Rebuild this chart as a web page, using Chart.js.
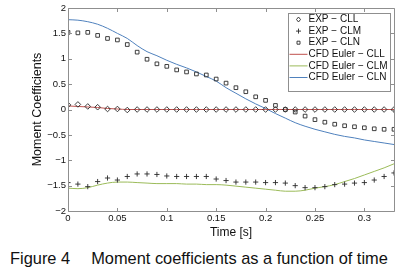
<!DOCTYPE html>
<html lang="en">
<head>
<meta charset="UTF-8">
<title>Moment coefficients</title>
<script src="https://cdn.jsdelivr.net/npm/chart.js@4"></script>
<style>
    body { margin: 0; background: #fff; }
    #wrap { position: relative; width: 410px; height: 275px; }
    canvas { display: block; }
    #caption {
        position: absolute; left: 10px; top: 249px;
        font: 16.4px "Liberation Sans", Arial, sans-serif;
        line-height: 18px; color: #111; white-space: pre;
    }
</style>
</head>
<body>
<div id="wrap">
    <canvas id="momentChart" width="410" height="244"></canvas>
    <div id="caption">Figure 4<span style="margin-left:21px">Moment coefficients as a function of time</span></div>
</div>

<script>
// time samples [s], experiment and CFD share the same grid
var times = [0, 0.01, 0.02, 0.03, 0.04, 0.05, 0.06, 0.07, 0.08, 0.09, 0.10, 0.11,
    0.12, 0.13, 0.14, 0.15, 0.16, 0.17, 0.18, 0.19, 0.20, 0.21, 0.22, 0.23,
    0.24, 0.25, 0.26, 0.27, 0.28, 0.29, 0.30, 0.31, 0.32, 0.33];

// experiment
var expCLL = [0.09, 0.10, 0.06, 0.045, 0.01, 0.01, -0.01, 0, 0, 0, 0, 0,
    0, 0, 0, 0, 0, 0, 0, 0, 0, 0, 0, 0,
    0, 0, 0, 0, 0, 0, 0, 0, 0, 0];
var expCLM = [-1.44, -1.47, -1.52, -1.42, -1.35, -1.39, -1.32, -1.27, -1.27, -1.28, -1.31, -1.32,
    -1.32, -1.32, -1.32, -1.37, -1.40, -1.43, -1.43, -1.43, -1.44, -1.44, -1.45, -1.50,
    -1.54, -1.54, -1.52, -1.48, -1.47, -1.45, -1.44, -1.39, -1.32, -1.25];
var expCLN = [1.52, 1.51, 1.52, 1.46, 1.40, 1.37, 1.28, 1.13, 0.99, 0.90, 0.85, 0.78,
    0.74, 0.70, 0.68, 0.60, 0.52, 0.43, 0.35, 0.25, 0.18, 0.08, 0.0, -0.05,
    -0.13, -0.20, -0.25, -0.29, -0.32, -0.34, -0.36, -0.38, -0.39, -0.39];

// CFD Euler
var cfdCLL = [0.07, 0.06, 0.05, 0.04, 0.02, 0.01, 0, 0, 0, 0, 0, 0,
    0, 0, 0, 0, 0, 0, 0, 0, 0, 0, 0, 0,
    0, 0, 0, 0, 0, 0, 0, 0, 0, 0];
var cfdCLM = [-1.55, -1.56, -1.54, -1.49, -1.45, -1.43, -1.43, -1.44, -1.45, -1.46, -1.46, -1.46,
    -1.47, -1.47, -1.48, -1.48, -1.49, -1.51, -1.53, -1.55, -1.57, -1.59, -1.61, -1.61,
    -1.59, -1.55, -1.52, -1.48, -1.42, -1.36, -1.29, -1.22, -1.15, -1.07];
var cfdCLN = [1.77, 1.76, 1.73, 1.68, 1.60, 1.50, 1.40, 1.26, 1.14, 1.06, 0.97, 0.89,
    0.82, 0.74, 0.65, 0.56, 0.43, 0.32, 0.21, 0.11, 0.02, -0.08, -0.17, -0.26,
    -0.33, -0.39, -0.44, -0.49, -0.53, -0.56, -0.60, -0.63, -0.66, -0.69];

var seriesLabels = ['EXP \u2212 CLL', 'EXP \u2212 CLM', 'EXP \u2212 CLN',
    'CFD Euler \u2212 CLL', 'CFD Euler \u2212 CLM', 'CFD Euler \u2212 CLN'];

var xTickStep = 0.05;
var yTickStep = 0.5;

var fontFamily = '"Liberation Sans", Arial, sans-serif';
var markerColor = '#2a2a2a';

function pairs(ys) {
    return times.map(function (t, i) { return { x: t, y: ys[i] }; });
}

function expSet(label, ys, style, r) {
    return {
        label: label, data: pairs(ys), showLine: false,
        pointStyle: style, pointRadius: r, pointHoverRadius: r,
        pointBorderColor: markerColor, pointBackgroundColor: 'transparent',
        pointBorderWidth: 0.9
    };
}

function cfdSet(label, ys, color) {
    return {
        label: label, data: pairs(ys), showLine: true,
        borderColor: color, borderWidth: 1, pointRadius: 0,
        cubicInterpolationMode: 'monotone', fill: false
    };
}

// matlab style box with inward ticks
var frameBox = {
    id: 'frameBox',
    afterDatasetsDraw: function (chart) {
        var ctx = chart.ctx, a = chart.chartArea;
        var xs = chart.scales.x, ys = chart.scales.y;
        var l = Math.round(a.left) + 0.5, r = Math.round(a.right) + 0.5;
        var t = Math.round(a.top) + 0.5, b = Math.round(a.bottom) + 0.5;
        ctx.save();
        ctx.strokeStyle = '#8f8f8f';
        ctx.lineWidth = 1;
        ctx.beginPath();
        ctx.rect(l, t, r - l, b - t);
        xs.ticks.forEach(function (tk) {
            var px = Math.round(xs.getPixelForValue(tk.value)) + 0.5;
            ctx.moveTo(px, b); ctx.lineTo(px, b - 3.5);
            ctx.moveTo(px, t); ctx.lineTo(px, t + 3.5);
        });
        ys.ticks.forEach(function (tk) {
            var py = Math.round(ys.getPixelForValue(tk.value)) + 0.5;
            ctx.moveTo(l, py); ctx.lineTo(l + 3.5, py);
            ctx.moveTo(r, py); ctx.lineTo(r - 3.5, py);
        });
        ctx.stroke();
        ctx.restore();
    }
};

function drawMarker(ctx, style, x, y) {
    ctx.beginPath();
    if (style === 'rectRot') {
        ctx.moveTo(x, y - 2.5); ctx.lineTo(x + 2, y); ctx.lineTo(x, y + 2.5); ctx.lineTo(x - 2, y);
        ctx.closePath();
    } else if (style === 'cross') {
        ctx.moveTo(x - 2.5, y); ctx.lineTo(x + 2.5, y);
        ctx.moveTo(x, y - 2.5); ctx.lineTo(x, y + 2.5);
    } else {
        ctx.rect(x - 1.5, y - 1.5, 3, 3);
    }
    ctx.stroke();
}

// legend box inside the axes, top right
var boxLegend = {
    id: 'boxLegend',
    afterDraw: function (chart) {
        var ctx = chart.ctx, a = chart.chartArea;
        var left = Math.round(a.right) - 106 + 0.5, top = Math.round(a.top) + 5.5;
        ctx.save();
        ctx.fillStyle = '#fff';
        ctx.strokeStyle = '#8f8f8f';
        ctx.lineWidth = 1;
        ctx.fillRect(left, top, 102, 78);
        ctx.strokeRect(left, top, 102, 78);
        ctx.font = '10px ' + fontFamily;
        ctx.textBaseline = 'middle';
        chart.data.datasets.forEach(function (ds, i) {
            var y = top + 6 + i * 11.6;
            ctx.strokeStyle = ds.showLine ? ds.borderColor : markerColor;
            if (ds.showLine) {
                ctx.lineWidth = 1;
                ctx.beginPath();
                ctx.moveTo(left + 1, y); ctx.lineTo(left + 19, y);
                ctx.stroke();
            } else {
                ctx.lineWidth = 0.9;
                drawMarker(ctx, ds.pointStyle, left + 10, y);
            }
            ctx.fillStyle = '#111';
            ctx.fillText(ds.label, left + 20, y);
        });
        ctx.restore();
    }
};

function fmt(v) {
    return String(parseFloat(v.toFixed(2))).replace('-', '\u2212');
}

var ctx = document.getElementById('momentChart').getContext('2d');
var momentChart = new Chart(ctx, {
    type: 'scatter',
    data: {
        datasets: [
            expSet(seriesLabels[0], expCLL, 'rectRot', 2.8),
            expSet(seriesLabels[1], expCLM, 'cross', 2.6),
            expSet(seriesLabels[2], expCLN, 'rect', 2.6),
            cfdSet(seriesLabels[3], cfdCLL, '#c0504d'),
            cfdSet(seriesLabels[4], cfdCLM, '#9bbb59'),
            cfdSet(seriesLabels[5], cfdCLN, '#4f81bd')
        ]
    },
    options: {
        responsive: false,
        animation: false,
        layout: { padding: { left: 24, right: 16, top: 8, bottom: 0 } },
        plugins: { legend: { display: false }, tooltip: { enabled: false } },
        scales: {
            x: {
                type: 'linear', min: 0, max: 0.33,
                grid: { display: false, drawTicks: false },
                border: { display: false },
                ticks: {
                    stepSize: xTickStep, includeBounds: false, padding: 2,
                    maxRotation: 0, autoSkip: false,
                    color: '#111', font: { family: fontFamily, size: 9.5 },
                    callback: fmt
                },
                title: {
                    display: true, text: 'Time [s]', color: '#111',
                    font: { family: fontFamily, size: 12 },
                    padding: { top: 0, bottom: 4 }
                },
                afterFit: function (s) { s.height = 33; }
            },
            y: {
                type: 'linear', min: -2, max: 2,
                grid: { display: false, drawTicks: false },
                border: { display: false },
                ticks: {
                    stepSize: yTickStep, padding: 2, autoSkip: false,
                    color: '#111', font: { family: fontFamily, size: 9.5 },
                    callback: fmt
                },
                title: {
                    display: true, text: 'Moment Coefficients', color: '#111',
                    font: { family: fontFamily, size: 12.5 },
                    padding: { top: 6, bottom: 0 }
                },
                afterFit: function (s) { s.width = 44; }
            }
        }
    },
    plugins: [frameBox, boxLegend]
});
</script>
</body>
</html>
